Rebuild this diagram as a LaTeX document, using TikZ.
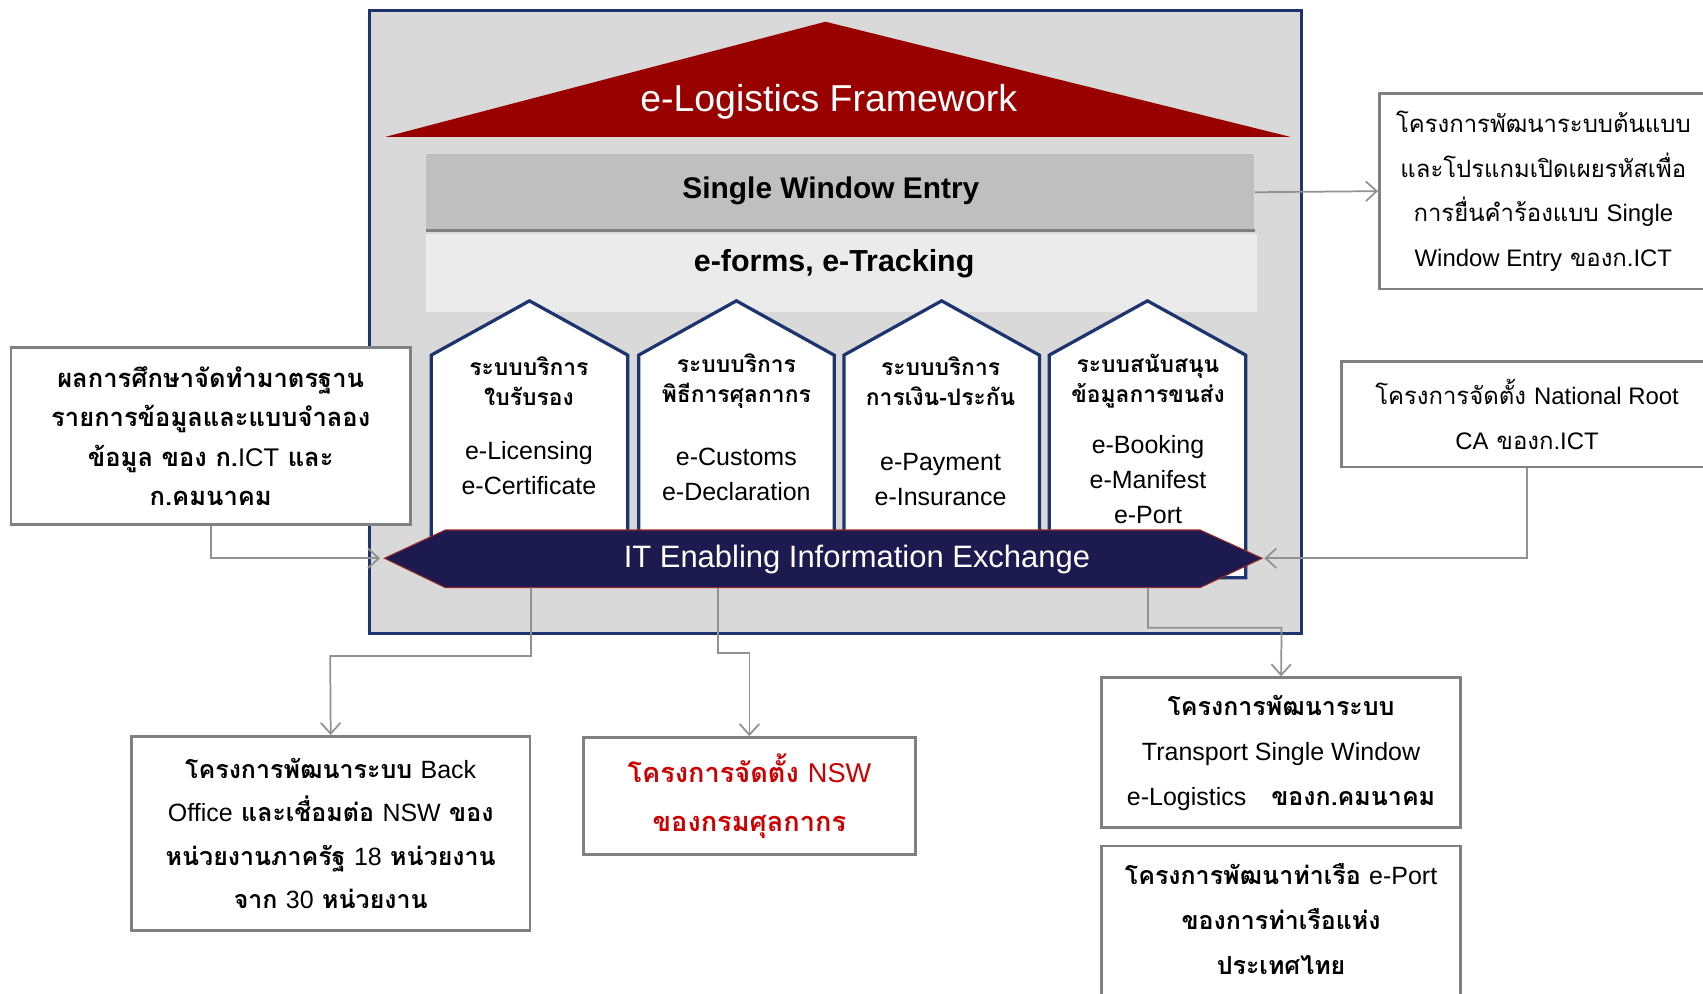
\documentclass[tikz,border=0pt]{standalone}
\usepackage{fontspec}
\setmainfont{Liberation Sans}
\newfontfamily\thai[Script=Thai]{Loma}
\usetikzlibrary{arrows.meta}
\definecolor{navy}{RGB}{30,52,110}
\definecolor{framefill}{RGB}{217,217,217}
\definecolor{roofred}{RGB}{153,0,0}
\definecolor{swegray}{RGB}{191,191,191}
\definecolor{eformgray}{RGB}{235,235,235}
\definecolor{barblue}{RGB}{28,26,78}
\definecolor{baredge}{RGB}{150,40,40}
\definecolor{boxgray}{RGB}{128,128,128}
\definecolor{conngray}{RGB}{145,145,145}
\definecolor{nswred}{RGB}{204,0,0}
\newcommand\latn[1]{{\rmfamily\mdseries #1}}
\tikzset{
  box/.style={draw=boxgray, line width=2.5pt, fill=white, inner sep=0pt, align=center},
  conn/.style={draw=conngray, line width=1.6pt, -{Straight Barb[length=10pt,width=18pt,line width=1.6pt]}},
  pillar/.style={draw=navy, line width=3pt, fill=white, line join=miter},
  phead/.style={align=center, font=\thai\bfseries\fontsize{21}{28}\selectfont},
  pitem/.style={align=center, font=\fontsize{23}{32}\selectfont},
  thaitext/.style={align=center, font=\thai\bfseries\fontsize{23}{40}\selectfont}
}
\begin{document}
\begin{tikzpicture}[x=1pt,y=-1pt]
\useasboundingbox (0,0) rectangle (1568,915);
\clip (0,0) rectangle (1568,915);
\fill[white] (0,0) rectangle (1568,915);
% frame
\node[draw=navy, line width=3pt, fill=framefill, minimum width=858pt, minimum height=573pt, inner sep=0pt] (frame) at (769,296.5) {};
% roof
\fill[roofred] (355,126) -- (760,20) -- (1188,126) -- cycle;
\node[text=white, font=\fontsize{34.5}{36}\selectfont] (roof) at (763,94) {e-Logistics Framework};
% bands
\node[fill=swegray, minimum width=763pt, minimum height=70pt, inner sep=0pt] (swe) at (773.5,177) {};
\draw[draw=boxgray, line width=3pt] (swe.south west) -- (swe.south east);
\node[font=\bfseries\fontsize{27.5}{30}\selectfont] (swet) at (765,176) {Single Window Entry};
\node[fill=eformgray, minimum width=765pt, minimum height=72pt, inner sep=0pt] (ef) at (774.5,251) {};
\node[font=\bfseries\fontsize{28}{30}\selectfont] (eft) at (768,243) {e-forms, e-Tracking};
% pillars
\draw[pillar] (397,532) -- (397,327) -- (487.5,277) -- (578,327) -- (578,532) -- cycle;
\draw[pillar] (588,532) -- (588,327) -- (678,277) -- (768,327) -- (768,532) -- cycle;
\draw[pillar] (777,532) -- (777,327) -- (867,277) -- (957,327) -- (957,532) -- cycle;
\draw[pillar] (966,532) -- (966,327) -- (1056.5,277) -- (1147,327) -- (1147,532) -- cycle;
\node[phead] (h1) at (487,351) {ระบบบริการ\\ใบรับรอง};
\node[phead] (h2) at (678,351) {ระบบบริการ\\พิธีการศุลกากร};
\node[phead] (h3) at (866,351) {ระบบบริการ\\การเงิน-ประกัน};
\node[phead] (h4) at (1057,351) {ระบบสนับสนุน\\ข้อมูลการขนส่ง};
\node[pitem] (i1) at (487,431) {e-Licensing\\e-Certificate};
\node[pitem] (i2) at (678,437) {e-Customs\\e-Declaration};
\node[pitem] (i3) at (866,441.5) {e-Payment\\e-Insurance};
\node[pitem] (i4) at (1057,441.5) {e-Booking\\e-Manifest\\e-Port};
% IT bar
\filldraw[fill=barblue, draw=baredge, line width=1pt] (354,514) -- (410,488) -- (1105,488) -- (1162,514) -- (1105,541) -- (410,541) -- cycle;
\coordinate (barL) at (354,514);
\coordinate (barR) at (1162,514);
\coordinate (b1) at (489,541);
\coordinate (b2) at (661,541);
\coordinate (b3) at (1057,541);
\node[text=white, font=\fontsize{28.5}{30}\selectfont] (bart) at (789,515) {IT Enabling Information Exchange};
% boxes
\node[box, minimum width=368pt, minimum height=163pt, thaitext, font=\thai\bfseries\fontsize{23.5}{36}\selectfont] (lbox) at (194,401.5)
  {ผลการศึกษาจัดทำมาตรฐาน\\รายการข้อมูลและแบบจำลอง\\ข้อมูล ของ ก.\latn{ICT} และ\\ก.คมนาคม};
\node[box, minimum width=302pt, minimum height=180pt, align=center, font=\thai\fontsize{22}{41}\selectfont] (tr) at (1421,176)
  {โครงการพัฒนาระบบต้นแบบ\\และโปรแกมเปิดเผยรหัสเพื่อ\\การยื่นคำร้องแบบ \latn{Single}\\\latn{Window Entry} ของก.\latn{ICT}};
\node[box, minimum width=342pt, minimum height=97pt, thaitext, font=\thai\fontsize{22}{41}\selectfont] (rm) at (1406,381.5)
  {โครงการจัดตั้ง \latn{National Root}\\\latn{CA} ของก.\latn{ICT}};
\node[box, minimum width=367pt, minimum height=179pt, thaitext] (bl) at (304.5,767.5)
  {โครงการพัฒนาระบบ \latn{Back}\\\latn{Office} และเชื่อมต่อ \latn{NSW} ของ\\หน่วยงานภาครัฐ \latn{18} หน่วยงาน\\จาก \latn{30} หน่วยงาน};
\node[box, minimum width=306pt, minimum height=108pt, thaitext, text=nswred, font=\thai\bfseries\fontsize{25}{45}\selectfont] (bm) at (690,733)
  {โครงการจัดตั้ง \latn{NSW}\\ของกรมศุลกากร};
\node[box, minimum width=331pt, minimum height=138pt, thaitext, font=\thai\bfseries\fontsize{23}{41.5}\selectfont] (br1) at (1179.5,693)
  {โครงการพัฒนาระบบ\\\latn{Transport Single Window}\\\latn{e-Logistics}\quad ของก.คมนาคม};
\node[box, minimum width=331pt, minimum height=160pt, inner sep=0pt] (br2) at (1179.5,859) {};
\node[thaitext, font=\thai\bfseries\fontsize{23}{41.5}\selectfont] (br2t) at (1179.5,846.5)
  {โครงการพัฒนาท่าเรือ \latn{e-Port}\\ของการท่าเรือแห่ง\\ประเทศไทย};
% connectors
\coordinate (j1) at (304,604);
\coordinate (j2) at (690,601);
\coordinate (j3) at (1180,578);
\draw[conn] (swe.east) -- (tr.west);
\draw[conn, shorten >=4pt] (lbox.south) |- (barL);
\draw[conn, shorten >=2pt] (rm.south) |- (barR);
\draw[conn] (b1) |- (j1) -- (bl.north);
\draw[conn] (b2) |- (j2) -- (bm.north);
\draw[conn] (b3) |- (j3) -- (br1.north);
\end{tikzpicture}
\end{document}
